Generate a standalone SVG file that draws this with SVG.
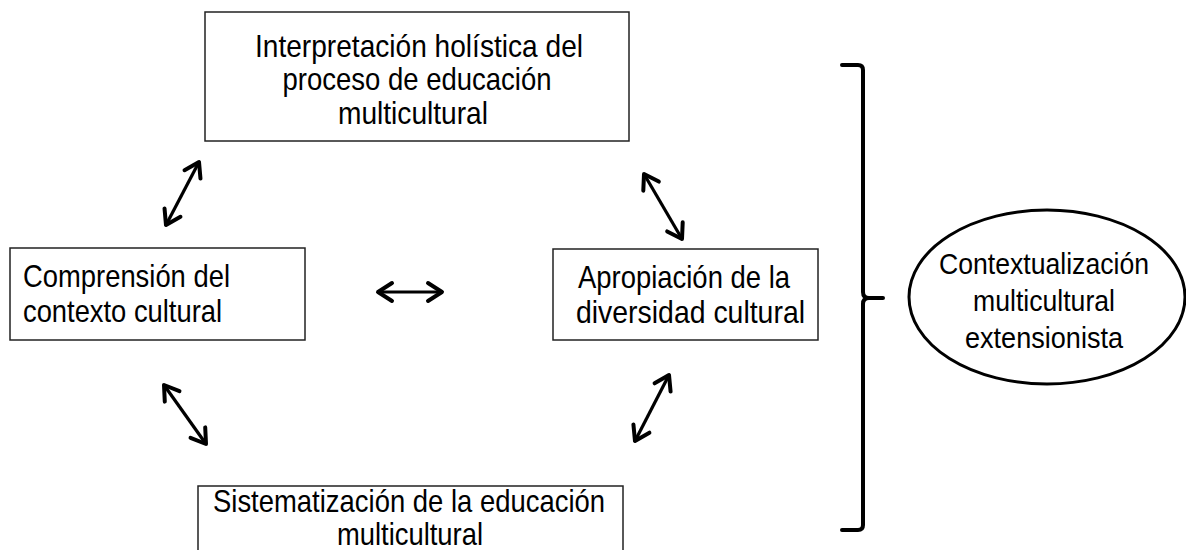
<svg xmlns="http://www.w3.org/2000/svg" width="1186" height="550" viewBox="0 0 1186 550">
<style>
.box{fill:#fff;stroke:#222;stroke-width:1.5}
.t{font-family:"Liberation Sans",Arial,sans-serif;font-size:32px;fill:#000}
.e{font-size:30px}
.c{text-anchor:middle}
.arr{fill:none;stroke:#000;stroke-width:3.2;marker-start:url(#ah);marker-end:url(#ah)}
</style>
<defs>
<marker id="ah" markerUnits="userSpaceOnUse" viewBox="-20 -14 24 28" markerWidth="24" markerHeight="28" refX="0" refY="0" orient="auto-start-reverse">
<path d="M-14,-9 L0,0 L-14,9" fill="none" stroke="#000" stroke-width="4" stroke-linecap="round" stroke-linejoin="round"/>
</marker>
</defs>
<rect width="1186" height="550" fill="#fff"/>
<g id="n-top">
<rect class="box" x="205" y="12" width="424" height="129"/>
<text class="t c" x="419" y="57" textLength="328" lengthAdjust="spacingAndGlyphs">Interpretación holística  del</text>
<text class="t c" x="417" y="90" textLength="269" lengthAdjust="spacingAndGlyphs">proceso de educación</text>
<text class="t c" x="413" y="124" textLength="150" lengthAdjust="spacingAndGlyphs">multicultural</text>
</g>
<g id="n-left">
<rect class="box" x="10" y="248" width="295" height="92"/>
<text class="t" x="23" y="287" textLength="207" lengthAdjust="spacingAndGlyphs">Comprensión del</text>
<text class="t" x="23" y="322" textLength="199" lengthAdjust="spacingAndGlyphs">contexto cultural</text>
</g>
<g id="n-right">
<rect class="box" x="553" y="249" width="265" height="91"/>
<text class="t" x="578" y="288" textLength="212" lengthAdjust="spacingAndGlyphs">Apropiación de la</text>
<text class="t" x="576" y="323" textLength="229" lengthAdjust="spacingAndGlyphs">diversidad cultural</text>
</g>
<g id="n-bottom">
<rect class="box" x="198" y="486" width="425" height="80"/>
<text class="t c" x="409" y="512" textLength="392" lengthAdjust="spacingAndGlyphs">Sistematización de la educación</text>
<text class="t c" x="410" y="545" textLength="146" lengthAdjust="spacingAndGlyphs">multicultural</text>
</g>
<g id="n-ellipse">
<ellipse cx="1047" cy="297" rx="138" ry="87" fill="#fff" stroke="#000" stroke-width="3"/>
<text class="t e c" x="1044" y="274" textLength="210" lengthAdjust="spacingAndGlyphs">Contextualización</text>
<text class="t e c" x="1044" y="311" textLength="142" lengthAdjust="spacingAndGlyphs">multicultural</text>
<text class="t e c" x="1044" y="348" textLength="158" lengthAdjust="spacingAndGlyphs">extensionista</text>
</g>
<g id="bracket">
<path d="M842,65 L858,65 Q863,65 863,70 L863,292 Q863,298 869,298 L883,298 M869,298 Q863,298 863,304 L863,525 Q863,530 858,530 L842,530" fill="none" stroke="#000" stroke-width="4" stroke-linecap="round" stroke-linejoin="round"/>
</g>
<g id="connectors">
<line class="arr" x1="166" y1="225" x2="199" y2="162"/>
<line class="arr" x1="378" y1="292" x2="442" y2="292"/>
<line class="arr" x1="644" y1="174" x2="682" y2="239"/>
<line class="arr" x1="164" y1="385" x2="206" y2="444"/>
<line class="arr" x1="635" y1="441" x2="669" y2="375"/>
</g>
</svg>
